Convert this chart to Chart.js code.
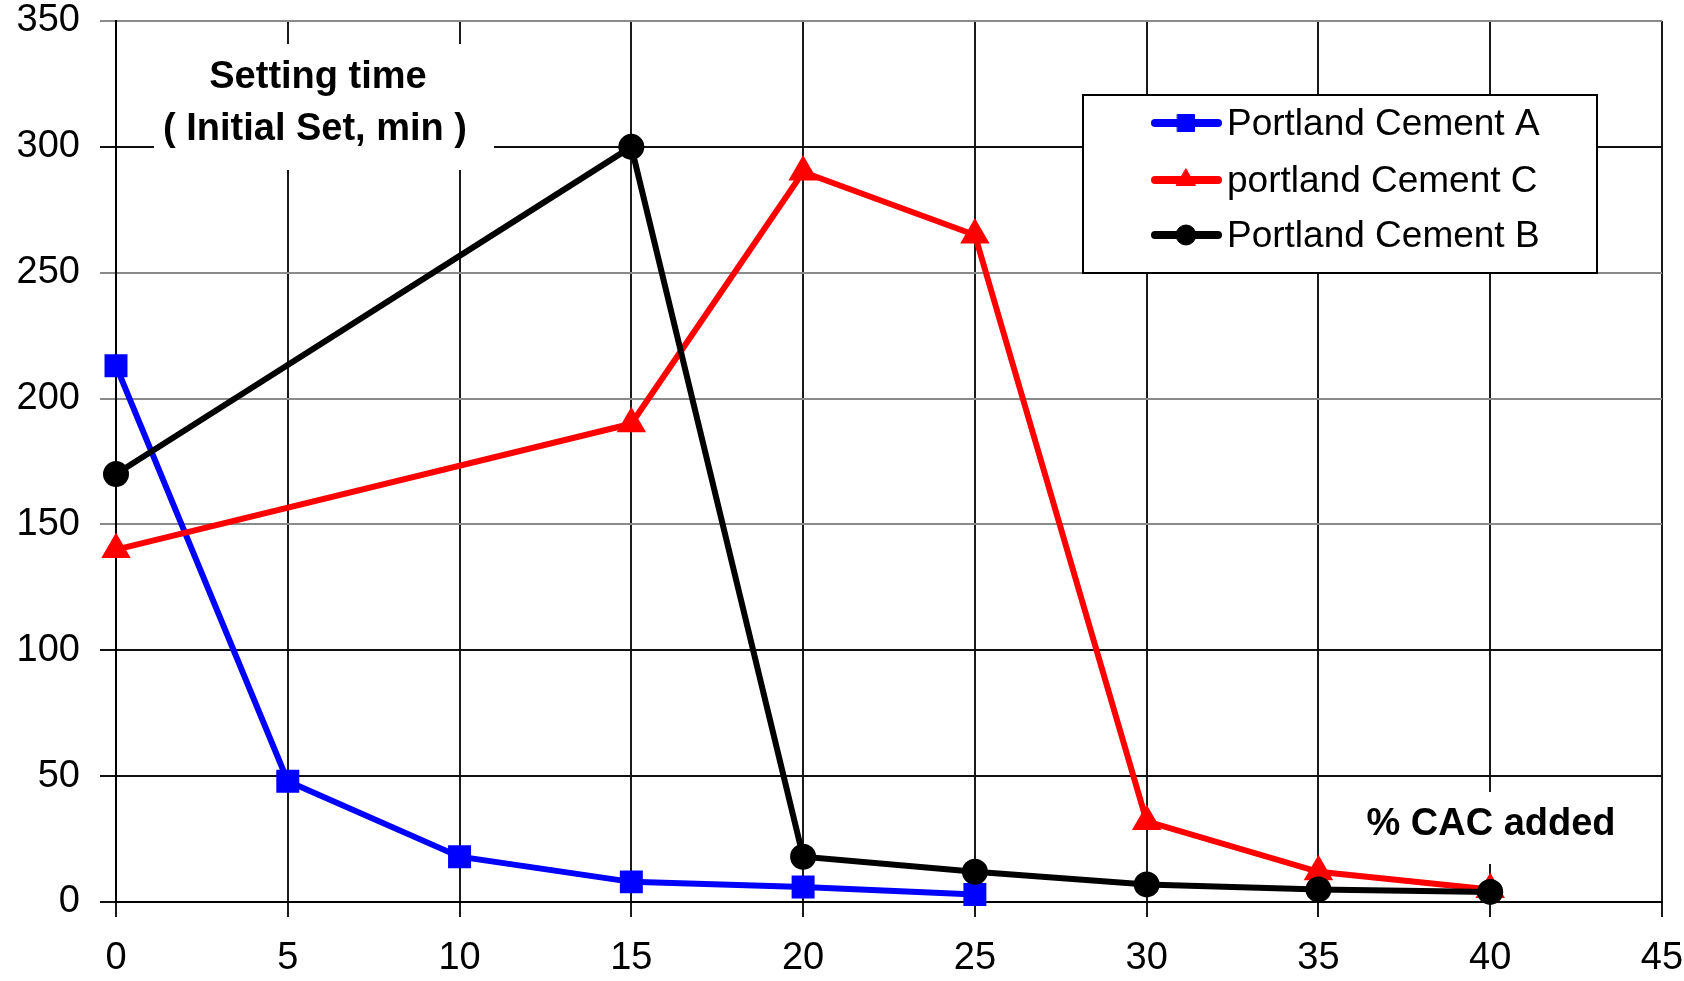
<!DOCTYPE html>
<html>
<head>
<meta charset="utf-8">
<script src="https://cdn.jsdelivr.net/npm/chart.js@4.4.0/dist/chart.umd.min.js"></script>
<style>
  body { margin: 0; background: #fff; }
  #wrap { width: 1684px; height: 981px; position: relative; }
</style>
</head>
<body>
<div id="wrap"><canvas id="settingChart"></canvas></div>
<script>
// % CAC added vs initial setting time (min)
const aX = [0, 5, 10, 15, 20, 25];
const aY = [213, 48, 18, 8, 6, 3];
const cX = [0, 15, 20, 25, 30, 35, 40];
const cY = [140, 190, 290, 265, 32, 12, 5];
const bX = [0, 15, 20, 25, 30, 35, 40];
const bY = [170, 300, 18, 12, 7, 5, 4];

const seriesNames = ['Portland Cement A', 'portland Cement C', 'Portland Cement B'];
const xTicks = [0, 5, 10, 15, 20, 25, 30, 35, 40, 45];
const yTicks = [0, 50, 100, 150, 200, 250, 300, 350];

const titleLines = ['Setting time', '( Initial Set, min )'];
const xTitle = '% CAC added';

const tickFont = "'Liberation Sans Narrow', 'Liberation Sans', Arial, sans-serif";
const mainFont = "'Liberation Sans', Arial, sans-serif";

function pts(xs, ys) {
    return xs.map((x, i) => ({ x: x, y: ys[i] }));
}

const notesPlugin = {
    id: 'notes',
    beforeDatasetsDraw(chart) {
        const ctx = chart.ctx;
        ctx.save();
        // white patches behind the free text
        ctx.fillStyle = '#fff';
        ctx.fillRect(154, 44, 340, 126);
        ctx.fillRect(1362, 792, 260, 72);
        ctx.fillStyle = '#000';
        ctx.textAlign = 'center';
        ctx.textBaseline = 'middle';
        ctx.font = 'bold 38px ' + mainFont;
        ctx.fillText(titleLines[0], 318, 78);
        ctx.fillText(titleLines[1], 315, 130);
        ctx.fillText(xTitle, 1491, 825);
        ctx.restore();
    },
    afterDraw(chart) {
        const ctx = chart.ctx;
        ctx.save();
        ctx.fillStyle = '#fff';
        ctx.fillRect(1083, 95, 514, 178);
        ctx.strokeStyle = '#000';
        ctx.lineWidth = 2;
        ctx.strokeRect(1083, 95, 514, 178);
        const rows = [123, 180, 235];
        const order = [2, 1, 0]; // dataset index: A, C, B
        ctx.textBaseline = 'middle';
        ctx.textAlign = 'left';
        order.forEach((di, i) => {
            const ds = chart.data.datasets[di];
            const y = rows[i];
            ctx.strokeStyle = ds.borderColor;
            ctx.lineWidth = 8;
            ctx.lineCap = 'round';
            ctx.beginPath();
            ctx.moveTo(1155, y);
            ctx.lineTo(1218, y);
            ctx.stroke();
            ctx.fillStyle = ds.pointBackgroundColor;
            ctx.lineWidth = 1;
            Chart.helpers.drawPoint(ctx, {
                pointStyle: ds.pointStyle,
                radius: ds.pointRadius,
                borderWidth: 1
            }, 1186, y);
            ctx.fillStyle = '#000';
            ctx.font = '37px ' + mainFont;
            ctx.fillText(seriesNames[i], 1227, y + 2);
        });
        ctx.restore();
    }
};

const ctx = document.getElementById('settingChart').getContext('2d');
const myChart = new Chart(ctx, {
    type: 'line',
    data: {
        datasets: [
            {
                label: seriesNames[2],
                data: pts(bX, bY),
                borderColor: '#000',
                backgroundColor: '#000',
                pointBackgroundColor: '#000',
                pointBorderColor: '#000',
                pointStyle: 'circle',
                pointRadius: 10,
                borderWidth: 6,
                clip: false,
                order: 0
            },
            {
                label: seriesNames[1],
                data: pts(cX, cY),
                borderColor: '#ff0000',
                backgroundColor: '#ff0000',
                pointBackgroundColor: '#ff0000',
                pointBorderColor: '#ff0000',
                pointStyle: 'triangle',
                pointRadius: 11,
                borderWidth: 6,
                clip: false,
                order: 1
            },
            {
                label: seriesNames[0],
                data: pts(aX, aY),
                borderColor: '#0000ff',
                backgroundColor: '#0000ff',
                pointBackgroundColor: '#0000ff',
                pointBorderColor: '#0000ff',
                pointStyle: 'rect',
                pointRadius: 12,
                borderWidth: 6,
                clip: false,
                order: 2
            }
        ]
    },
    options: {
        responsive: true,
        maintainAspectRatio: false,
        animation: false,
        layout: { padding: { top: 21, right: 22, left: 0, bottom: 0 } },
        plugins: {
            legend: { display: false },
            tooltip: { enabled: false }
        },
        scales: {
            x: {
                type: 'linear',
                min: 0,
                max: 45,
                afterBuildTicks: (scale) => { scale.ticks = xTicks.map(v => ({ value: v })); },
                afterFit: (scale) => {
                    scale.height = 79;
                    scale.paddingLeft = 0;
                    scale.paddingRight = 0;
                },
                grid: { color: '#1a1a1a', lineWidth: 2, tickLength: 15 },
                border: { color: '#000', width: 2 },
                ticks: {
                    color: '#000',
                    padding: 19,
                    font: { family: tickFont, size: 38 }
                }
            },
            y: {
                min: 0,
                max: 350,
                afterBuildTicks: (scale) => { scale.ticks = yTicks.map(v => ({ value: v })); },
                afterFit: (scale) => {
                    scale.width = 116;
                    scale.paddingTop = 0;
                    scale.paddingBottom = 0;
                },
                grid: {
                    color: (c) => [0, 50, 100, 300].includes(c.tick && c.tick.value) ? '#111' : '#8a8a8a',
                    lineWidth: 2,
                    tickLength: 16
                },
                border: { color: '#000', width: 2 },
                ticks: {
                    color: '#000',
                    padding: 20,
                    font: { family: tickFont, size: 38 }
                }
            }
        }
    },
    plugins: [notesPlugin]
});
</script>
</body>
</html>
